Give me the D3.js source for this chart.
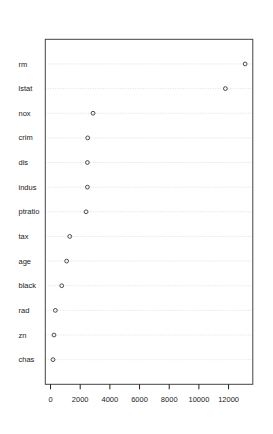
<!DOCTYPE html>
<html lang="en">
<head>
    <meta charset="UTF-8">
    <title>Variable importance dotchart</title>
    <script src="https://d3js.org/d3.v7.min.js"></script>
    <style>
        body { margin: 0; background: #fff; }
        text { font-family: "Liberation Sans", Arial, sans-serif; font-size: 7.5px; fill: #222; }
    </style>
</head>
<body>
    <script>
        // bottom to top, as in the dotchart
        const vars = ["chas", "zn", "rad", "black", "age", "tax", "ptratio", "indus", "dis", "crim", "nox", "lstat", "rm"];
        const importance = [200, 270, 360, 790, 1120, 1330, 2430, 2520, 2520, 2540, 2900, 11820, 13150];
        const xTicks = [0, 2000, 4000, 6000, 8000, 10000, 12000];

        const width = 273, height = 434;
        const plotLeft = 45.3, plotRight = 252.8, plotTop = 39.3, plotBottom = 384.3;

        const svg = d3.select("body").append("svg")
            .attr("width", width)
            .attr("height", height);

        const x = d3.scaleLinear().domain([-318, 13668]).range([plotLeft, plotRight]);
        const y = d3.scaleLinear().domain([0, vars.length + 1]).range([plotBottom, plotTop]);

        // dotted guide lines
        svg.selectAll(".guide")
            .data(vars)
            .enter().append("line")
            .attr("x1", plotLeft)
            .attr("x2", plotRight)
            .attr("y1", (d, i) => y(i + 1))
            .attr("y2", (d, i) => y(i + 1))
            .style("stroke", "#d8d8d8")
            .style("stroke-width", 0.8)
            .style("stroke-dasharray", "1,1.5");

        // row labels
        svg.selectAll(".lab")
            .data(vars)
            .enter().append("text")
            .attr("x", 18.5)
            .attr("y", (d, i) => y(i + 1))
            .attr("dy", "0.35em")
            .text(d => d);

        // points
        svg.selectAll(".pt")
            .data(importance)
            .enter().append("circle")
            .attr("cx", d => x(d))
            .attr("cy", (d, i) => y(i + 1))
            .attr("r", 1.9)
            .style("fill", "none")
            .style("stroke", "#222")
            .style("stroke-width", 0.8);

        // box
        svg.append("rect")
            .attr("x", plotLeft)
            .attr("y", plotTop)
            .attr("width", plotRight - plotLeft)
            .attr("height", plotBottom - plotTop)
            .style("fill", "none")
            .style("stroke", "#444")
            .style("stroke-width", 1);

        const axis = d3.axisBottom(x)
            .tickValues(xTicks)
            .tickSize(5)
            .tickPadding(7)
            .tickFormat(d3.format("d"));

        const g = svg.append("g")
            .attr("transform", `translate(0,${plotBottom})`)
            .call(axis);
        g.select(".domain").remove();
        g.selectAll("line").style("stroke", "#222");
        g.selectAll("text")
            .style("font-family", "'Liberation Sans', Arial, sans-serif")
            .style("font-size", "7.5px")
            .style("fill", "#222");
    </script>
</body>
</html>
